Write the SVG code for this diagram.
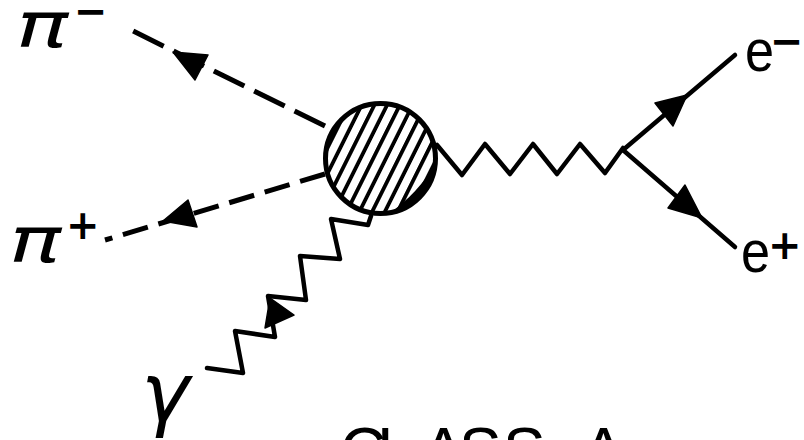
<svg xmlns="http://www.w3.org/2000/svg" width="804" height="440" viewBox="0 0 804 440">
<style>
.bg{fill:#fff}
.dash1{fill:none;stroke:#000;stroke-width:5;stroke-dasharray:34 11}
.dash2{fill:none;stroke:#000;stroke-width:5;stroke-dasharray:26 11}
.line{fill:none;stroke:#000;stroke-width:4.5;stroke-linecap:round}
.wave{fill:none;stroke:#000;stroke-width:4.5;stroke-linejoin:round;stroke-linecap:round}
.arrow{fill:#000;stroke:#000;stroke-width:1.5;stroke-linejoin:round}
.greek{font-family:"DejaVu Sans",sans-serif;font-style:italic;fill:#000}
.sup{font-family:"DejaVu Sans",sans-serif;font-weight:bold;fill:#000}
.lat{font-family:"Liberation Sans",Arial,sans-serif;fill:#000}
</style>
<defs>
<pattern id="hatch" width="11.4" height="20" patternUnits="userSpaceOnUse" patternTransform="rotate(26.5)">
<line x1="5.7" y1="-2" x2="5.7" y2="22" stroke="#000" stroke-width="3.8"/>
</pattern>
</defs>
<rect class="bg" x="0" y="0" width="804" height="440"/>
<g id="connectors">
<line class="dash1" x1="325" y1="126" x2="133" y2="31"/>
<polygon class="arrow" points="173,52 195,80 208,55"/>
<line class="dash2" x1="325" y1="174" x2="105" y2="240"/>
<polygon class="arrow" points="163,221 188,200 197,227"/>
<polyline class="wave" points="437,145 462,175 485,144 510,174 533,144 557,174 580,144 605,173 623,148"/>
<line class="line" x1="623" y1="150" x2="735" y2="55"/>
<polygon class="arrow" points="687,95 655,103 673,126"/>
<line class="line" x1="623" y1="150" x2="735" y2="247"/>
<polygon class="arrow" points="702,218 668,208 685,185"/>
<polyline class="wave" points="371,216 368,225 331,219 340,259 300,256 306,300 268,296 275,337 235,331 243,373 207,368"/>
<polygon class="arrow" points="265,328 270,298 294,315"/>
</g>
<g id="blob">
<circle cx="380.5" cy="158.5" r="55" fill="url(#hatch)" stroke="#000" stroke-width="5"/>
<path d="M435.3,163.3 A55,55 0 0 1 390,212.7 A150,150 0 0 0 435.3,163.3 Z" fill="#000"/>
</g>
<g id="pi-minus">
<text class="greek" transform="translate(16,47) scale(1.4,1)" font-size="62">π</text>
<text class="sup" x="74" y="25" font-size="40">−</text>
</g>
<g id="pi-plus">
<text class="greek" transform="translate(9,262) scale(1.4,1)" font-size="62">π</text>
<text class="sup" x="66" y="239" font-size="40">+</text>
</g>
<g id="e-minus">
<text class="lat" transform="translate(745,71) scale(0.87,1)" font-size="60">e</text>
<text class="sup" x="770" y="55" font-size="40">−</text>
</g>
<g id="e-plus">
<text class="lat" transform="translate(741,272) scale(0.87,1)" font-size="60">e</text>
<text class="sup" x="768" y="259" font-size="40">+</text>
</g>
<g id="gamma">
<text class="greek" x="141" y="421" font-size="82">γ</text>
</g>
<g id="class-a">
<text class="lat" x="340 377 422 459 503 545 582" y="473" font-size="64">CLASS A</text>
</g>
</svg>
